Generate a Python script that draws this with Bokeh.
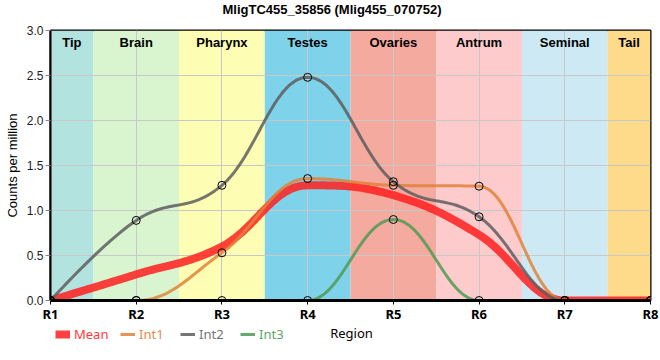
import numpy as np
from bokeh.plotting import figure
from bokeh.layouts import column
from bokeh.models import (ColumnDataSource, Legend, LegendItem, FixedTicker, Range1d,
                          PrintfTickFormatter, Label)
from bokeh.core.properties import value
from bokeh.embed import file_html
from bokeh.resources import INLINE

# ---------------- data ----------------
title_text = "MligTC455_35856 (Mlig455_070752)"
regions = ["R1", "R2", "R3", "R4", "R5", "R6", "R7", "R8"]
tissues = ["Tip", "Brain", "Pharynx", "Testes", "Ovaries", "Antrum", "Seminal", "Tail"]
tissue_colors = ["#b3e3df", "#d8f5cf", "#fdfdb3", "#7ed3ea", "#f4aa9e", "#fdcbcc", "#cdeaf4", "#fddb8b"]
mean_vals = [0.0, 0.29, 0.60, 1.28, 1.17, 0.73, 0.0, 0.0]
int1_vals = [0.0, 0.0, 0.53, 1.355, 1.28, 1.27, 0.0, 0.0]
int2_vals = [0.0, 0.89, 1.28, 2.48, 1.32, 0.93, 0.0, 0.0]
int3_vals = [0.0, 0.0, 0.0, 0.0, 0.90, 0.0, 0.0, 0.0]
series_names = ["Mean", "Int1", "Int2", "Int3"]
y_ticks = [0.0, 0.5, 1.0, 1.5, 2.0, 2.5, 3.0]

xpos = list(range(1, len(regions) + 1))

FONT = "Liberation Sans"
FONT2 = "Noto Sans"


def spline(xs, ys, steps=40):
    """Highcharts-like smooth spline through the data points."""
    n = len(xs)
    sm, den = 1.5, 2.5
    lc = [None] * n
    rc = [None] * n
    for i in range(1, n - 1):
        x, y = xs[i], ys[i]
        lx, ly = xs[i - 1], ys[i - 1]
        nx, ny = xs[i + 1], ys[i + 1]
        lcx = (sm * x + lx) / den
        lcy = (sm * y + ly) / den
        rcx = (sm * x + nx) / den
        rcy = (sm * y + ny) / den
        corr = ((rcy - lcy) * (rcx - x)) / (rcx - lcx) + y - rcy
        lcy += corr
        rcy += corr
        if lcy > ly and lcy > y:
            lcy = max(ly, y); rcy = 2 * y - lcy
        elif lcy < ly and lcy < y:
            lcy = min(ly, y); rcy = 2 * y - lcy
        if rcy > ny and rcy > y:
            rcy = max(ny, y); lcy = 2 * y - rcy
        elif rcy < ny and rcy < y:
            rcy = min(ny, y); lcy = 2 * y - rcy
        lc[i] = (lcx, lcy)
        rc[i] = (rcx, rcy)
    outx, outy = [xs[0]], [ys[0]]
    t = np.linspace(0, 1, steps)[1:]
    for i in range(1, n):
        p0 = (xs[i - 1], ys[i - 1])
        p3 = (xs[i], ys[i])
        p1 = rc[i - 1] if rc[i - 1] is not None else p0
        p2 = lc[i] if lc[i] is not None else p3
        bx = (1 - t) ** 3 * p0[0] + 3 * (1 - t) ** 2 * t * p1[0] + 3 * (1 - t) * t ** 2 * p2[0] + t ** 3 * p3[0]
        by = (1 - t) ** 3 * p0[1] + 3 * (1 - t) ** 2 * t * p1[1] + 3 * (1 - t) * t ** 2 * p2[1] + t ** 3 * p3[1]
        outx.extend(bx.tolist())
        outy.extend(by.tolist())
    return outx, outy


# ---------------- title row ----------------
tf = figure(width=660, height=18, output_backend="svg", toolbar_location=None,
            x_range=Range1d(0, 1), y_range=Range1d(0, 1), x_axis_type=None, y_axis_type=None,
            min_border=0, outline_line_color=None)
tf.grid.visible = False
tf.border_fill_color = "#ffffff"
tf.background_fill_color = "#ffffff"
tf.add_layout(Label(x=172, y=9, x_units="screen", y_units="screen", text=title_text,
                    text_align="left", text_baseline="middle", text_font=FONT,
                    text_font_size="13px", text_font_style="bold", text_color="#000000"))

# ---------------- main chart ----------------
p = figure(frame_width=600, frame_height=270, output_backend="svg", toolbar_location=None,
           x_range=Range1d(1, len(regions)), y_range=Range1d(0, 3),
           min_border_left=50, min_border_right=10, min_border_top=12, min_border_bottom=22)

# bands
band_left = [max(x - 0.5, xpos[0]) for x in xpos]
band_right = [min(x + 0.5, xpos[-1]) for x in xpos]
band_src = ColumnDataSource(dict(left=band_left, right=band_right,
                                 mid=[(a + b) / 2 for a, b in zip(band_left, band_right)],
                                 top=[3.0] * len(xpos), bottom=[0.0] * len(xpos),
                                 color=tissue_colors, name=tissues))
p.quad(left="left", right="right", top="top", bottom="bottom", fill_color="color",
       line_color=None, source=band_src, level="image")
p.text(x="mid", y="top", text="name", source=band_src, y_offset=4, text_align="center",
       text_baseline="top", text_font=value(FONT), text_font_size="13px",
       text_font_style="bold", text_color="#000000")

# series: (values, line colour, width, alpha, legend text colour)
styles = [
    (mean_vals, "#ff1f1f", 8, 0.85, "#ff3838"),
    (int1_vals, "#e0833a", 3, 0.85, "#e08d4c"),
    (int2_vals, "#5e5e5e", 3, 0.85, "#747474"),
    (int3_vals, "#4f9a55", 3, 0.85, "#5ea865"),
]
for vals, col, lw, alpha, tcol in styles:
    sx, sy = spline(xpos, vals)
    p.line(sx, sy, line_color=col, line_width=lw, line_alpha=alpha, line_cap="butt", line_join="round")
for vals, col, lw, alpha, tcol in styles[1:]:
    p.scatter(xpos, vals, size=8, marker="circle", fill_color=None, line_color="#000000", line_width=1)

# axes
p.xaxis.ticker = FixedTicker(ticks=xpos)
p.xaxis.major_label_overrides = {x: r for x, r in zip(xpos, regions)}
p.xaxis.major_label_text_font = FONT2
p.xaxis.major_label_text_font_style = "bold"
p.xaxis.major_label_text_font_size = "13px"
p.xaxis.major_label_text_color = "#000000"
p.xaxis.axis_line_width = 3
p.xaxis.axis_line_color = "#000000"
p.xaxis.major_tick_out = 4
p.xaxis.major_tick_in = 0
p.xaxis.major_tick_line_color = "#000000"
p.xaxis.minor_tick_line_color = None
p.xaxis.major_label_standoff = 0

p.yaxis.ticker = FixedTicker(ticks=y_ticks)
p.yaxis.formatter = PrintfTickFormatter(format="%.1f")
p.yaxis.major_label_text_font = FONT
p.yaxis.major_label_text_font_size = "12px"
p.yaxis.major_label_text_color = "#1a1a2a"
p.yaxis.axis_line_width = 2
p.yaxis.axis_line_color = "#000000"
p.yaxis.major_tick_out = 5
p.yaxis.major_tick_in = 0
p.yaxis.major_tick_line_color = "#888888"
p.yaxis.minor_tick_line_color = None
p.yaxis.major_label_standoff = 2
p.yaxis.axis_label = "Counts per million"
p.yaxis.axis_label_text_font = FONT
p.yaxis.axis_label_text_font_style = "normal"
p.yaxis.axis_label_text_font_size = "13px"
p.yaxis.axis_label_text_color = "#000000"
p.yaxis.axis_label_standoff = 4

p.xgrid.grid_line_color = "#c8c8c8"
p.ygrid.grid_line_color = "#c8c8c8"
p.outline_line_color = "#000000"
p.outline_line_width = 2
p.background_fill_color = "#ffffff"
p.border_fill_color = "#ffffff"

# ---------------- legend row (with the x-axis title) ----------------
lf = figure(width=660, height=26, output_backend="svg", toolbar_location=None,
            x_range=Range1d(0, 1), y_range=Range1d(0, 1), x_axis_type=None, y_axis_type=None,
            min_border=0, outline_line_color=None)
lf.grid.visible = False
lf.border_fill_color = "#ffffff"
lf.background_fill_color = "#ffffff"
leg_x = [5, 70, 130, 190]
for name, (vals, col, lw, alpha, tcol), lx in zip(series_names, styles, leg_x):
    # invisible (out-of-range) line that only lends its style to the legend swatch
    r = lf.line(x=[-1, -1], y=[-1, -1], line_color=col, line_width=lw, line_alpha=alpha, line_cap="butt")
    lg = Legend(items=[LegendItem(label=name, renderers=[r])], location=(lx, 8),
                orientation="horizontal", label_text_color=tcol, label_text_font=FONT2,
                label_text_font_size="13px", glyph_width=15, glyph_height=10, label_height=14,
                label_standoff=4, padding=0, margin=0, spacing=0, border_line_color=None,
                background_fill_alpha=0)
    lf.add_layout(lg)
lf.add_layout(Label(x=301, y=19, x_units="screen", y_units="screen", text="Region",
                    text_align="center", text_baseline="middle", text_font=FONT2,
                    text_font_size="13px", text_color="#000000"))

layout = column(tf, p, lf, spacing=0)
open("out.html", "w").write(file_html(layout, INLINE))
